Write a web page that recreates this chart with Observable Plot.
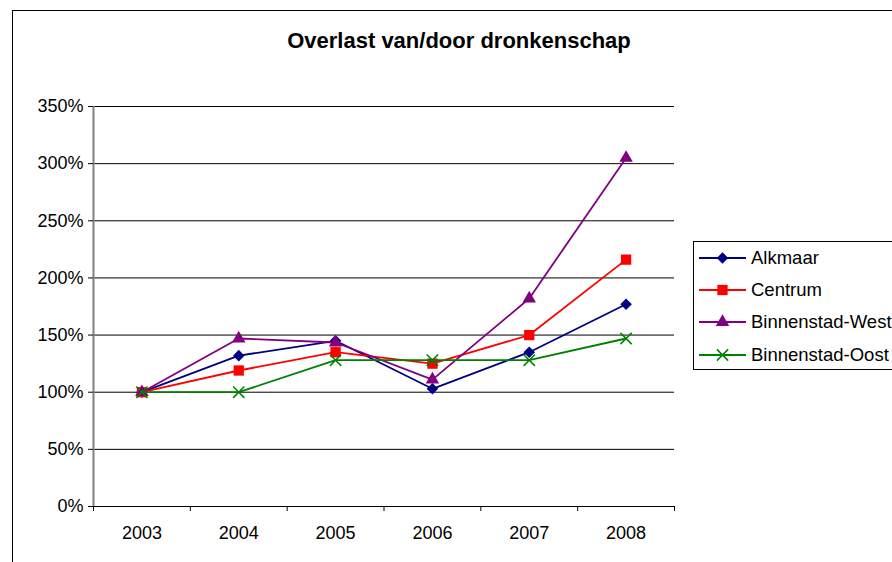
<!DOCTYPE html>
<html><head><meta charset="utf-8">
<script src="https://cdn.jsdelivr.net/npm/d3@7"></script>
<script src="https://cdn.jsdelivr.net/npm/@observablehq/plot@0.6"></script>
<style>
html,body{margin:0;padding:0;background:#fff;}
body{width:892px;height:562px;overflow:hidden;position:relative;font-family:"Liberation Sans",Arial,sans-serif;color:#000;}
#frame{position:absolute;left:12px;top:10px;width:1000px;height:1000px;border-left:1px solid #000;border-top:1px solid #000;}
#chart{position:absolute;left:0;top:0;}
#title{position:absolute;left:0;width:918px;top:29.5px;text-align:center;font-weight:bold;font-size:22px;line-height:1;}
#legend{position:absolute;left:693px;top:241px;}
</style></head>
<body>
<div id="frame"></div>
<div id="chart"></div>
<div id="title">Overlast van/door dronkenschap</div>
<div id="legend"></div>
<script>
const years = [2003, 2004, 2005, 2006, 2007, 2008];
const alkmaar = [1.00, 1.32, 1.45, 1.03, 1.35, 1.77];
const centrum = [1.00, 1.19, 1.35, 1.25, 1.50, 2.16];
const binnenstadWest = [1.00, 1.47, 1.435, 1.11, 1.82, 3.05];
const binnenstadOost = [1.00, 1.00, 1.28, 1.28, 1.28, 1.47];
const seriesNames = ["Alkmaar", "Centrum", "Binnenstad-West", "Binnenstad-Oost"];
const seriesValues = [alkmaar, centrum, binnenstadWest, binnenstadOost];
const colors = ["#000080", "#FF0000", "#800080", "#008000"];
const symbols = ["diamond2", "square", "triangle", "times"];
const radii = [5.2, 5.8, 5.0, 5.2];
const yTicks = [0, 0.5, 1, 1.5, 2, 2.5, 3, 3.5];
const xBoundaries = [2002.5, 2003.5, 2004.5, 2005.5, 2006.5, 2007.5, 2008.5];

const data = [];
seriesNames.forEach((name, i) => years.forEach((year, j) => data.push({name, year, value: seriesValues[i][j]})));

const seriesMarks = [];
seriesNames.forEach((name, i) => {
  const rows = data.filter(d => d.name === name);
  seriesMarks.push(Plot.line(rows, {x: "year", y: "value", stroke: colors[i], strokeWidth: 1.8}));
  if (symbols[i] === "times") {
    seriesMarks.push(Plot.dot(rows, {x: "year", y: "value", symbol: symbols[i], r: radii[i], stroke: colors[i], strokeWidth: 1.5, fill: "none"}));
  } else {
    seriesMarks.push(Plot.dot(rows, {x: "year", y: "value", symbol: symbols[i], r: radii[i], fill: colors[i], stroke: "none"}));
  }
});

const chart = Plot.plot({
  width: 892,
  height: 562,
  marginLeft: 93,
  marginRight: 218,
  marginTop: 106,
  marginBottom: 56,
  style: {fontFamily: "Liberation Sans, Arial, sans-serif", color: "#000", background: "transparent", overflow: "visible"},
  x: {type: "linear", domain: [2002.5, 2008.5]},
  y: {domain: [0, 3.5]},
  marks: [
    Plot.ruleY(yTicks, {stroke: "#000", strokeWidth: 1}),
    Plot.ruleX([2002.5], {stroke: "#808080", strokeWidth: 2}),
    Plot.axisY({ticks: yTicks, tickFormat: d => Math.round(d * 100) + "%", tickSize: 5, tickPadding: 5, fontSize: 18, label: null}),
    Plot.axisX({ticks: xBoundaries, tickFormat: () => "", tickSize: 5, label: null}),
    Plot.axisX({ticks: years, tickFormat: d => String(d), tickSize: 0, tickPadding: 20, fontSize: 18, label: null}),
    ...seriesMarks
  ]
});
document.getElementById("chart").appendChild(chart);

// legend
const lg = d3.select("#legend").append("svg").attr("width", 200).attr("height", 130)
  .style("font-family", "Liberation Sans, Arial, sans-serif");
lg.append("rect").attr("x", 0.5).attr("y", 0.5).attr("width", 260).attr("height", 128)
  .attr("fill", "#fff").attr("stroke", "#000");
const symMap = {diamond2: d3.symbolDiamond2, square: d3.symbolSquare, triangle: d3.symbolTriangle, times: d3.symbolTimes};
const rowY = [17, 49, 81, 114];
seriesNames.forEach((name, i) => {
  const g = lg.append("g").attr("transform", `translate(0,${rowY[i]})`);
  g.append("line").attr("x1", 6).attr("x2", 53).attr("y1", 0).attr("y2", 0)
    .attr("stroke", colors[i]).attr("stroke-width", 1.8);
  const p = g.append("path").attr("transform", "translate(29.5,0)")
    .attr("d", d3.symbol(symMap[symbols[i]], Math.PI * radii[i] * radii[i])());
  if (symbols[i] === "times") p.attr("fill", "none").attr("stroke", colors[i]).attr("stroke-width", 1.5);
  else p.attr("fill", colors[i]);
  g.append("text").attr("x", 58).attr("y", 0).attr("dy", "0.35em").attr("font-size", 18.5).text(name);
});
</script>
</body></html>
